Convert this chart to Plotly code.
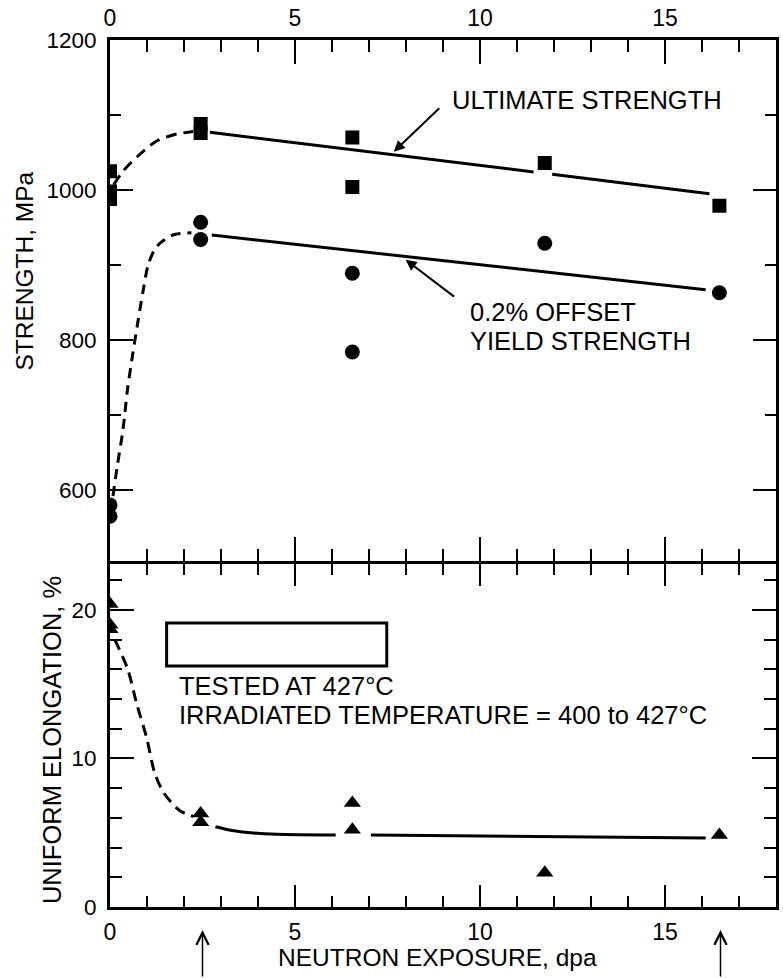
import plotly.graph_objects as go

# ---- measured data -------------------------------------------------------
# ultimate strength (MPa) vs neutron exposure (dpa)
uts_dpa = [0, 0, 0, 2.45, 2.45, 6.55, 6.55, 11.75, 16.47]
uts_mpa = [1025, 998, 988, 1088, 1076, 1070, 1004, 1036, 979]

# 0.2% offset yield strength (MPa)
ys_dpa = [0, 0, 2.45, 2.45, 6.55, 6.55, 11.75, 16.47]
ys_mpa = [580, 565, 957, 934, 889, 784, 929, 863]

# uniform elongation (%)
el_dpa = [0, 0, 0, 2.45, 2.45, 6.55, 6.55, 11.75, 16.47]
el_pct = [20.4, 19.0, 18.7, 6.3, 5.7, 7.0, 5.2, 2.3, 4.85]

# hand-drawn trend curves
uts_trans_x = [0.1, 0.35, 0.75, 1.25, 1.75, 2.25]
uts_trans_y = [1007, 1025, 1045, 1065, 1074, 1078]
uts_fit_a_x = [2.7, 11.45]
uts_fit_a_y = [1077, 1024]
uts_fit_b_x = [11.95, 16.2]
uts_fit_b_y = [1021, 995]

ys_trans_x = [0.08, 0.19, 0.35, 0.47, 0.62, 0.75, 0.9, 1.03, 1.2, 1.35, 1.7, 2.2]
ys_trans_y = [592, 630, 680, 733, 783, 823, 867, 900, 920, 929, 940, 943]
ys_fit_x = [2.75, 16.1]
ys_fit_y = [940, 867]

el_trans_x = [0.13, 0.48, 0.72, 0.99, 1.2, 1.45, 1.88, 2.25]
el_trans_y = [18.0, 16.0, 13.7, 11.4, 9.1, 7.7, 6.5, 6.1]
el_fit_a_x = [2.85, 3.3, 3.8, 4.5, 6.1]
el_fit_a_y = [5.4, 5.15, 5.0, 4.9, 4.85]
el_fit_b_x = [7.05, 16.1]
el_fit_b_y = [4.85, 4.65]

x_ticks = [0, 5, 10, 15]
strength_ticks = [600, 800, 1000, 1200]
elong_ticks = [0, 10, 20]
marked_dpa = [2.5, 16.5]

FONT = "Liberation Sans, Arial, Helvetica, sans-serif"
INK = "black"

fig = go.Figure()

def curve(x, y, xa, ya, dash=None, shape="spline"):
    fig.add_trace(go.Scatter(
        x=x, y=y, mode="lines", xaxis=xa, yaxis=ya, hoverinfo="skip",
        line=dict(color=INK, width=3, dash=dash, shape=shape, smoothing=0.8),
    ))

def points(x, y, xa, ya, symbol, size):
    fig.add_trace(go.Scatter(
        x=x, y=y, mode="markers", xaxis=xa, yaxis=ya,
        marker=dict(symbol=symbol, size=size, color=INK, line=dict(width=0)),
    ))

# upper panel: strength
curve(uts_trans_x, uts_trans_y, "x", "y", dash="11px,7px")
curve(uts_fit_a_x, uts_fit_a_y, "x", "y", shape="linear")
curve(uts_fit_b_x, uts_fit_b_y, "x", "y", shape="linear")
curve(ys_trans_x, ys_trans_y, "x", "y", dash="10px,7px")
curve(ys_fit_x, ys_fit_y, "x", "y", shape="linear")
points(uts_dpa, uts_mpa, "x", "y", "square", 14)
points(ys_dpa, ys_mpa, "x", "y", "circle", 15)

# lower panel: elongation
curve(el_trans_x, el_trans_y, "x2", "y2", dash="11px,7px")
curve(el_fit_a_x, el_fit_a_y, "x2", "y2")
curve(el_fit_b_x, el_fit_b_y, "x2", "y2", shape="linear")
points(el_dpa, el_pct, "x2", "y2", "triangle-up", 15)

common = dict(
    showgrid=False, zeroline=False, showline=True, linecolor=INK, linewidth=3,
    ticks="inside", tickcolor=INK, tickwidth=2, mirror="ticks", fixedrange=True,
)

# the two panels share one 3px divider: the axis lines sit just outside
# each domain, so the domains leave a 3px gap that both lines fill
H_PLOT = 978 - 40 - 71
TOP_LOW = 346.5 / H_PLOT
BOT_HIGH = 343.5 / H_PLOT

fig.update_layout(
    width=783, height=978,
    margin=dict(l=110, r=4, t=40, b=71),
    paper_bgcolor="white", plot_bgcolor="white",
    showlegend=False,
    font=dict(family=FONT, color=INK),
    xaxis=dict(
        **common, domain=[0, 1], anchor="y", side="top", range=[0, 18],
        tickvals=x_ticks, ticklen=24, ticklabelstandoff=2,
        tickfont=dict(family=FONT, size=23, color=INK),
        minor=dict(dtick=1, tick0=0, ticklen=12, tickwidth=2, tickcolor=INK, ticks="inside"),
    ),
    yaxis=dict(
        **common, domain=[TOP_LOW, 1], anchor="x", range=[506, 1200],
        tickvals=strength_ticks, ticklen=23, ticklabelstandoff=6,
        tickfont=dict(family=FONT, size=22.5, color=INK),
        minor=dict(dtick=100, tick0=0, ticklen=11, tickwidth=2, tickcolor=INK, ticks="inside"),
    ),
    xaxis2=dict(
        **common, domain=[0, 1], anchor="y2", side="bottom", range=[0, 18],
        tickvals=x_ticks, ticklen=22, ticklabelstandoff=2,
        tickfont=dict(family=FONT, size=23, color=INK),
        minor=dict(dtick=1, tick0=0, ticklen=11, tickwidth=2, tickcolor=INK, ticks="inside"),
    ),
    yaxis2=dict(
        **common, domain=[0, BOT_HIGH], anchor="x2", range=[0, 23.13],
        tickvals=elong_ticks, ticklen=24, ticklabelstandoff=6,
        tickfont=dict(family=FONT, size=22.5, color=INK),
        minor=dict(dtick=2, tick0=0, ticklen=12, tickwidth=2, tickcolor=INK, ticks="inside"),
    ),
)

text_font = dict(family=FONT, size=25.5, color=INK)
ann = []

# axis titles
ann.append(dict(text="STRENGTH, MPa", xref="paper", yref="paper",
                x=-0.129, y=0.733, textangle=-90, showarrow=False,
                xanchor="center", yanchor="middle", font=dict(family=FONT, size=24.5, color=INK)))
ann.append(dict(text="UNIFORM ELONGATION, %", xref="paper", yref="paper",
                x=-0.088, y=0.193, textangle=-90, showarrow=False,
                xanchor="center", yanchor="middle", font=dict(family=FONT, size=25.5, color=INK)))
ann.append(dict(text="NEUTRON EXPOSURE, dpa", xref="paper", yref="paper",
                x=0.492, y=-0.0577, showarrow=False,
                xanchor="center", yanchor="middle", font=dict(family=FONT, size=24.5, color=INK)))

# curve labels with leader arrows
ann.append(dict(text="ULTIMATE STRENGTH", xref="x", yref="y", x=9.2, y=1120,
                xanchor="left", yanchor="middle", showarrow=False, font=text_font))
ann.append(dict(text="", xref="x", yref="y", x=7.67, y=1051, ax=47, ay=-45,
                showarrow=True, arrowhead=2, arrowsize=1.1, arrowwidth=2, arrowcolor=INK))
ann.append(dict(text="0.2% OFFSET", xref="x", yref="y", x=9.68, y=838,
                xanchor="left", yanchor="middle", showarrow=False, font=text_font))
ann.append(dict(text="YIELD STRENGTH", xref="x", yref="y", x=9.68, y=799,
                xanchor="left", yanchor="middle", showarrow=False, font=text_font))
ann.append(dict(text="", xref="x", yref="y", x=7.99, y=907, ax=50, ay=38,
                showarrow=True, arrowhead=2, arrowsize=1.1, arrowwidth=2, arrowcolor=INK))

# test condition note
ann.append(dict(text="TESTED AT 427°C", xref="x2", yref="y2", x=1.8, y=14.87,
                xanchor="left", yanchor="middle", showarrow=False, font=text_font))
ann.append(dict(text="IRRADIATED TEMPERATURE = 400 to 427°C", xref="x2", yref="y2",
                x=1.8, y=12.92, xanchor="left", yanchor="middle", showarrow=False, font=text_font))

# exposure markers below the axis
for d in marked_dpa:
    ann.append(dict(text="", xref="x2", yref="paper", x=d, y=-0.0265, ax=0, ay=50,
                    showarrow=True, arrowhead=5, arrowsize=1.6, arrowwidth=1.5, arrowcolor=INK))

fig.update_layout(annotations=ann)

# empty legend box
fig.add_shape(type="rect", xref="x2", yref="y2", x0=1.53, x1=7.48, y0=16.23, y1=19.12,
              line=dict(color=INK, width=3), fillcolor="rgba(0,0,0,0)")

fig.write_html("out.html")
